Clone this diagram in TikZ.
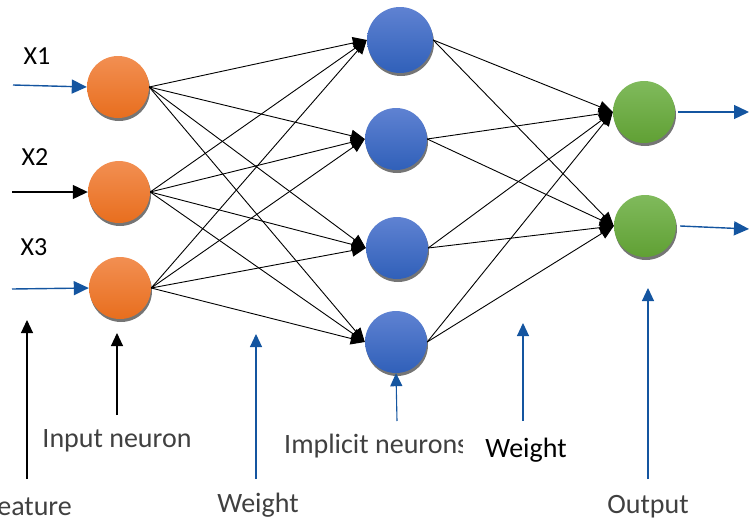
\documentclass[tikz,border=0pt]{standalone}
\usepackage{fontspec}
\setmainfont{Carlito}
\usetikzlibrary{arrows.meta,shadows}
\definecolor{arrowblue}{RGB}{20,85,160}
\definecolor{txtgray}{RGB}{64,64,64}
\definecolor{orangetop}{RGB}{242,143,82}
\definecolor{orangebot}{RGB}{232,110,30}
\definecolor{bluetop}{RGB}{95,130,210}
\definecolor{bluebot}{RGB}{48,96,185}
\definecolor{greentop}{RGB}{128,186,92}
\definecolor{greenbot}{RGB}{96,160,52}
\begin{document}
\begin{tikzpicture}[x=1pt,y=-1pt,
  neuron/.style={circle, inner sep=0pt, minimum size=62pt,
    drop shadow={shadow xshift=1pt, shadow yshift=-3pt, fill=black!60, opacity=0.9}},
  inneuron/.style={neuron, top color=orangetop, bottom color=orangebot},
  hneuron/.style={neuron, top color=bluetop, bottom color=bluebot},
  oneuron/.style={neuron, top color=greentop, bottom color=greenbot},
  conn/.style={-{Triangle[length=14pt,width=12pt]}, line width=0.9pt, black},
  bluearrow/.style={-{Triangle[length=15pt,width=14pt]}, line width=1.4pt, arrowblue},
  blackarrow/.style={-{Triangle[length=15pt,width=14pt]}, line width=1.2pt, black},
  annblue/.style={-{Triangle[length=13pt,width=12pt]}, line width=1.1pt, arrowblue},
  annblack/.style={-{Triangle[length=13pt,width=12pt]}, line width=1.1pt, black},
  lbl/.style={font=\fontsize{28}{32}\selectfont, text=txtgray, inner sep=0pt},
  wlbl/.style={font=\fontsize{28}{32}\selectfont, text=black, inner sep=0pt},
  xlbl/.style={font=\fontsize{26}{30}\selectfont, text=black, inner sep=0pt}]
\clip (0,0) rectangle (750,522);
\useasboundingbox (0,0) rectangle (750,522);

% neurons
\node[inneuron] (i1) at (118,87) {};
\node[inneuron] (i2) at (119,192) {};
\node[inneuron] (i3) at (120,288) {};
\node[hneuron, minimum size=66pt] (h1) at (400,40) {};
\node[hneuron] (h2) at (396,139) {};
\node[hneuron] (h3) at (397,248) {};
\node[hneuron] (h4) at (396,342) {};
\node[oneuron] (o1) at (644,112) {};
\node[oneuron] (o2) at (645,226) {};

% connections
\foreach \i in {1,2,3}{
  \foreach \h in {1,2,3,4}{
    \draw[conn] (i\i.east) -- (h\h.west);
  }
}
\foreach \h in {1,2,3,4}{
  \foreach \o in {1,2}{
    \draw[conn] (h\h.east) -- (o\o.west);
  }
}

% inputs
\coordinate (s1) at (13,85);
\coordinate (s2) at (12,192);
\coordinate (s3) at (12,289);
\draw[bluearrow] (s1) -- (i1.west);
\draw[blackarrow] (s2) -- (i2.west);
\draw[bluearrow] (s3) -- (i3.west);
\node[xlbl] (x1) at (37,56) {X1};
\node[xlbl] (x2) at (35,157) {X2};
\node[xlbl] (x3) at (34,247) {X3};

% outputs
\coordinate (e1) at (749,112);
\coordinate (e2) at (749,229);
\draw[bluearrow] ([xshift=3pt]o1.east) -- (e1);
\draw[bluearrow] ([xshift=4pt]o2.east) -- (e2);

% annotation arrows
\coordinate (fa) at (27,479);
\coordinate (fb) at (27,320);
\draw[annblack] (fa) -- (fb);
\coordinate (na) at (117,415);
\coordinate (nb) at (117,333);
\draw[annblack] (na) -- (nb);
\coordinate (wa) at (256,479);
\coordinate (wb) at (256,334);
\draw[annblue] (wa) -- (wb);
\coordinate (ha) at (397,421);
\draw[annblue] (ha) -- (h4.south);
\coordinate (va) at (523,421);
\coordinate (vb) at (523,323);
\draw[annblue] (va) -- (vb);
\coordinate (oa) at (648,479);
\coordinate (ob) at (648,288);
\draw[annblue] (oa) -- (ob);

% labels
\node[lbl, anchor=east] (feat) at (72,507) {Feature};
\node[lbl] (inl) at (117,441) {Input neuron};
\node[lbl] (w1) at (258,505) {Weight};
\begin{scope}
\clip (0,0) rectangle (462,522);
\node[lbl, anchor=west] (impl) at (284,446) {Implicit neurons};
\end{scope}
\node[wlbl] (w2) at (526,450) {Weight};
\node[lbl] (outl) at (648,507) {Output};
\end{tikzpicture}
\end{document}
